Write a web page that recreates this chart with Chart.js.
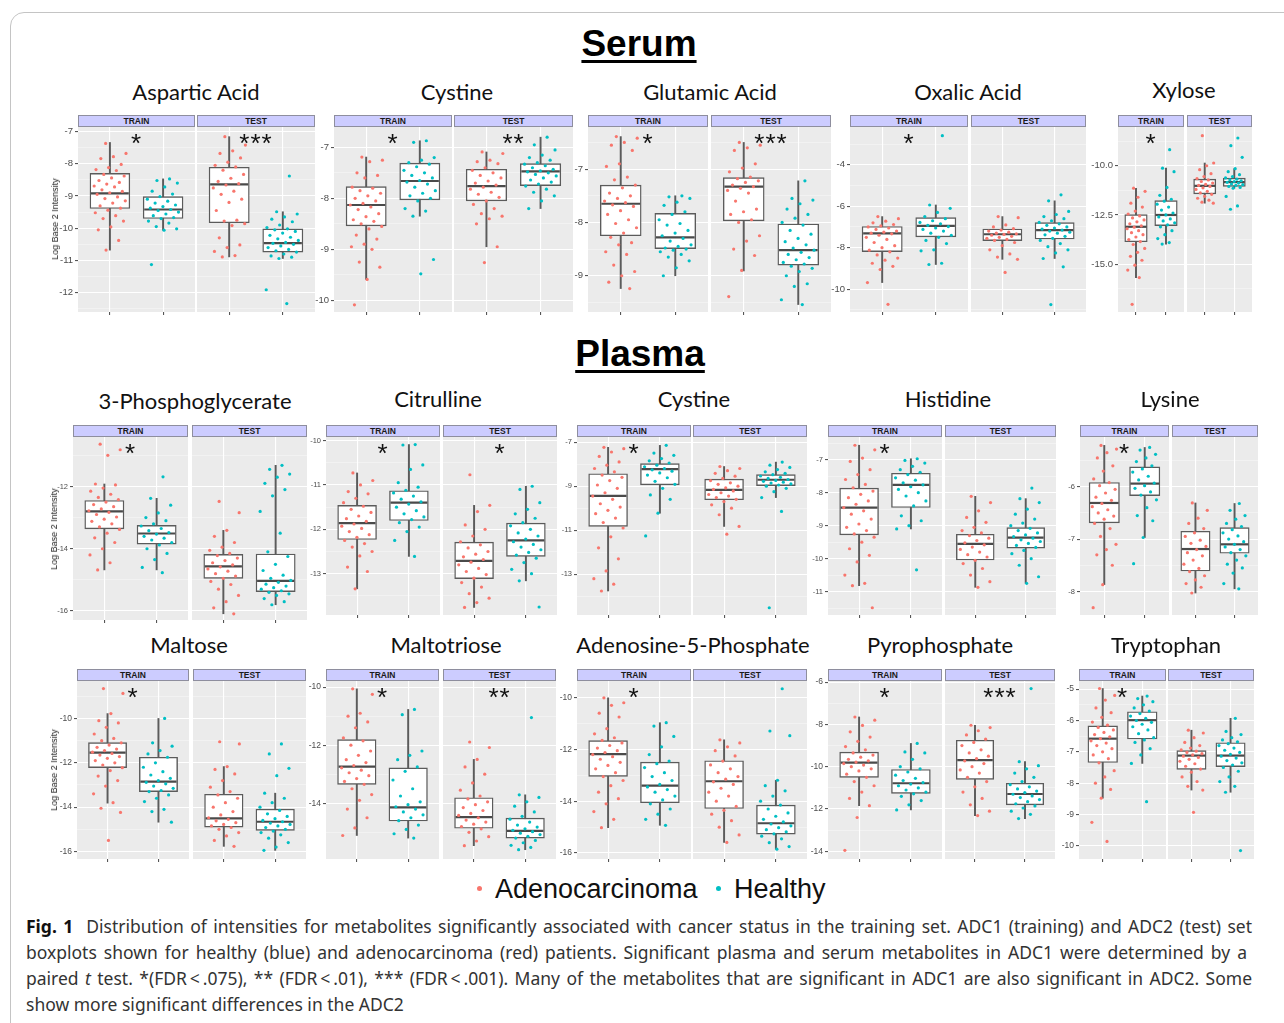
<!DOCTYPE html>
<html>
<head>
<meta charset="utf-8">
<script src="https://cdn.jsdelivr.net/npm/chart.js@4.4.1/dist/chart.umd.min.js"></script>
<style>
  html, body { margin: 0; padding: 0; }
  body { width: 1284px; height: 1023px; overflow: hidden; position: relative; background: #fff;
         font-family: 'Liberation Sans', Arial, sans-serif; color: #111; }
  #frame { position: absolute; left: 10px; top: 12px; width: 1300px; height: 1040px;
           border: 1px solid #c4c4c4; border-radius: 14px; }
  .hdr { position: absolute; font-weight: bold; font-size: 37px; line-height: 40px; white-space: nowrap;
         transform: translateX(-50%); text-decoration: underline; text-decoration-thickness: 3px;
         text-underline-offset: 4px; color: #000; }
  .ptitle { position: absolute; font-family: Lato, 'Open Sans', sans-serif; font-size: 22px; line-height: 26px;
            white-space: nowrap; transform: translateX(-50%); color: #111; }
  .strip { position: absolute; box-sizing: border-box; background: #ccccff; border: 1px solid #8e8e9e;
           font: bold 8.5px 'Liberation Sans', Arial, sans-serif; line-height: 10px; text-align: center; color: #1a1a1a; }
  .star { position: absolute; font: 26px 'Liberation Sans', Arial, sans-serif; line-height: 26px; white-space: nowrap;
          transform: translateX(-50%); color: #111; letter-spacing: 1px; }
  .ytitle { position: absolute; font: 9px 'Liberation Sans', Arial, sans-serif; color: #222; white-space: nowrap;
            transform: translate(-50%, -50%) rotate(-90deg); }
  canvas { position: absolute; }
  .lg { position: absolute; top: 872px; font: 27px 'Liberation Sans', Arial, sans-serif; white-space: nowrap; color: #111; line-height: 34px; }
  .lgdot { position: absolute; width: 5px; height: 5px; border-radius: 50%; }
  .cap { position: absolute; left: 26px; font-family: 'Noto Sans', 'Open Sans', sans-serif; font-size: 17.5px; line-height: 24px;
         color: #333; white-space: nowrap; }
  .cap.just { width: 1226px; text-align: justify; text-align-last: justify; white-space: normal; }
</style>
</head>
<body>
<div id="frame"></div>
<div class="hdr" style="left:639px; top:24px;">Serum</div>
<div class="hdr" style="left:640px; top:334px;">Plasma</div>
<div class="lgdot" style="left:477px; top:886px; background:#F8766D"></div>
<div class="lg" style="left:495px;">Adenocarcinoma</div>
<div class="lgdot" style="left:716px; top:886px; background:#00BFC4"></div>
<div class="lg" style="left:734px;">Healthy</div>
<div class="cap just" style="top:914px;"><b style="color:#111">Fig. 1</b>&nbsp; Distribution of intensities for metabolites significantly associated with cancer status in the training set. ADC1 (training) and ADC2 (test) set</div>
<div class="cap just" style="top:940px; width:1221px;">boxplots shown for healthy (blue) and adenocarcinoma (red) patients. Significant plasma and serum metabolites in ADC1 were determined by a</div>
<div class="cap just" style="top:966px;">paired <i>t</i> test. *(FDR&thinsp;&lt;&thinsp;.075), ** (FDR&thinsp;&lt;&thinsp;.01), *** (FDR&thinsp;&lt;&thinsp;.001). Many of the metabolites that are significant in ADC1 are also significant in ADC2. Some</div>
<div class="cap" style="top:992px;">show more significant differences in the ADC2</div>

<script>
// ---------------------------------------------------------------------------
// Data: log2 intensities per metabolite.
// Group order inside every *Boxes / *Points array:
//   TRAIN Adenocarcinoma, TRAIN Healthy, TEST Adenocarcinoma, TEST Healthy
// Box rows are [lower whisker, Q1, median, Q3, upper whisker].
// ---------------------------------------------------------------------------
const GROUP_NAMES = ['Adenocarcinoma', 'Healthy'];
const SET_NAMES = ['TRAIN', 'TEST'];
const GROUP_COLORS = ['#F8766D', '#00BFC4'];

// ----- Serum -----
const asparticTitle = 'Aspartic Acid';
const asparticTicks = [-12, -11, -10, -9, -8, -7];
const asparticRange = [-12.6, -6.86];
const asparticSig = ['*', '***'];
const asparticBoxes = [
  [-10.68, -9.39, -8.92, -8.30, -7.34],
  [-10.06, -9.70, -9.42, -9.02, -8.47],
  [-10.89, -9.83, -8.64, -8.11, -7.16],
  [-10.94, -10.74, -10.46, -10.02, -9.49]
];
const asparticPoints = [
  [-7.37,-7.68,-7.78,-7.84,-8.02,-8.12,-8.18,-8.21,-8.33,-8.38,-8.44,-8.52,-8.58,-8.63,-8.69,-8.72,-8.81,-8.86,-8.9,-8.95,-9.03,-9.08,-9.15,-9.22,-9.31,-9.38,-9.44,-9.52,-9.61,-9.7,-9.78,-9.96,-10.05,-10.38,-10.68],
  [-8.47,-8.52,-8.6,-8.72,-8.85,-8.94,-9.02,-9.1,-9.16,-9.22,-9.28,-9.33,-9.38,-9.42,-9.45,-9.5,-9.56,-9.61,-9.67,-9.7,-9.78,-9.84,-9.95,-10.02,-10.06,-11.13],
  [-7.16,-7.42,-7.6,-7.68,-7.82,-7.95,-8.05,-8.1,-8.2,-8.33,-8.45,-8.55,-8.62,-8.66,-8.75,-8.85,-8.95,-9.1,-9.2,-9.45,-9.75,-9.78,-9.86,-9.92,-10.3,-10.52,-10.6,-10.72,-10.85,-10.89],
  [-8.38,-9.49,-9.56,-9.65,-9.72,-9.8,-9.9,-9.98,-10.02,-10.05,-10.1,-10.15,-10.22,-10.28,-10.33,-10.38,-10.44,-10.47,-10.5,-10.55,-10.6,-10.66,-10.7,-10.74,-10.8,-10.86,-10.9,-10.94,-11.91,-12.34]
];

const serumCystineTitle = 'Cystine';
const serumCystineTicks = [-10, -9, -8, -7];
const serumCystineRange = [-10.23, -6.6];
const serumCystineSig = ['*', '**'];
const serumCystineBoxes = [
  [-9.59, -8.54, -8.13, -7.77, -7.19],
  [-8.35, -8.03, -7.66, -7.31, -6.87],
  [-8.95, -8.05, -7.76, -7.43, -7.09],
  [-8.20, -7.75, -7.47, -7.32, -6.80]
];
const serumCystinePoints = [
  [-7.19,-7.25,-7.28,-7.5,-7.55,-7.6,-7.78,-7.8,-7.85,-7.9,-7.95,-8.0,-8.05,-8.1,-8.13,-8.17,-8.22,-8.3,-8.36,-8.42,-8.45,-8.5,-8.55,-8.6,-8.72,-8.8,-8.9,-8.95,-9.0,-9.25,-9.35,-9.59,-10.09],
  [-6.87,-6.9,-7.2,-7.25,-7.3,-7.33,-7.38,-7.45,-7.5,-7.55,-7.6,-7.65,-7.68,-7.72,-7.78,-7.85,-7.9,-7.95,-8.0,-8.05,-8.2,-8.25,-8.35,-9.2,-9.48],
  [-7.09,-7.12,-7.25,-7.28,-7.32,-7.4,-7.45,-7.5,-7.55,-7.6,-7.66,-7.7,-7.74,-7.78,-7.82,-7.88,-7.92,-7.98,-8.05,-8.12,-8.2,-8.3,-8.35,-8.4,-8.5,-8.95,-9.26],
  [-6.8,-6.95,-7.05,-7.15,-7.2,-7.25,-7.3,-7.33,-7.36,-7.4,-7.43,-7.46,-7.48,-7.5,-7.53,-7.56,-7.6,-7.64,-7.68,-7.72,-7.76,-7.82,-7.88,-7.95,-8.05,-8.2]
];

const glutamicTitle = 'Glutamic Acid';
const glutamicTicks = [-9, -8, -7];
const glutamicRange = [-9.68, -6.21];
const glutamicSig = ['*', '***'];
const glutamicBoxes = [
  [-9.24, -8.25, -7.65, -7.30, -6.39],
  [-9.00, -8.49, -8.28, -7.83, -7.50],
  [-8.91, -7.97, -7.33, -7.16, -6.50],
  [-9.54, -8.80, -8.52, -8.03, -7.22]
];
const glutamicPoints = [
  [-6.39,-6.42,-6.5,-6.55,-6.65,-6.9,-6.95,-7.15,-7.2,-7.3,-7.35,-7.45,-7.5,-7.55,-7.6,-7.63,-7.67,-7.7,-7.78,-7.85,-7.95,-8.02,-8.1,-8.2,-8.28,-8.38,-8.42,-8.55,-8.6,-8.8,-8.92,-9.0,-9.12,-9.24],
  [-7.5,-7.52,-7.55,-7.62,-7.68,-7.8,-7.85,-7.95,-8.02,-8.05,-8.15,-8.2,-8.25,-8.3,-8.35,-8.42,-8.45,-8.48,-8.5,-8.52,-8.55,-8.6,-8.65,-8.72,-8.85,-9.0],
  [-6.5,-6.55,-6.6,-6.65,-6.9,-6.98,-7.05,-7.15,-7.18,-7.22,-7.25,-7.3,-7.33,-7.36,-7.4,-7.45,-7.6,-7.75,-7.8,-7.85,-7.95,-8.0,-8.25,-8.35,-8.5,-8.62,-8.9,-9.39],
  [-7.22,-7.55,-7.58,-7.65,-7.75,-7.85,-7.92,-8.0,-8.05,-8.15,-8.22,-8.3,-8.36,-8.42,-8.48,-8.52,-8.56,-8.6,-8.66,-8.7,-8.75,-8.78,-8.82,-8.86,-8.92,-9.0,-9.15,-9.2,-9.45,-9.54]
];

const oxalicTitle = 'Oxalic Acid';
const oxalicTicks = [-10, -8, -6, -4];
const oxalicRange = [-11.1, -2.18];
const oxalicSig = ['*', ''];
const oxalicBoxes = [
  [-9.68, -8.19, -7.31, -6.98, -6.50],
  [-8.81, -7.48, -6.95, -6.55, -5.94],
  [-8.56, -7.66, -7.35, -7.10, -6.50],
  [-8.52, -7.58, -7.15, -6.79, -5.74]
];
const oxalicPoints = [
  [-6.5,-6.6,-6.72,-6.8,-6.88,-6.95,-7.0,-7.05,-7.12,-7.2,-7.25,-7.3,-7.33,-7.4,-7.5,-7.6,-7.75,-7.9,-8.0,-8.12,-8.2,-8.35,-8.5,-8.6,-8.75,-8.9,-9.05,-9.68,-10.73],
  [-2.6,-5.94,-6.1,-6.3,-6.5,-6.6,-6.7,-6.78,-6.85,-6.92,-6.98,-7.05,-7.12,-7.2,-7.3,-7.4,-7.5,-7.65,-7.8,-8.1,-8.15,-8.75,-8.81],
  [-6.5,-6.55,-6.9,-7.0,-7.08,-7.15,-7.2,-7.25,-7.3,-7.33,-7.36,-7.4,-7.45,-7.5,-7.55,-7.6,-7.65,-7.75,-7.9,-8.1,-8.3,-8.45,-8.56,-9.19],
  [-5.45,-5.74,-6.25,-6.4,-6.5,-6.6,-6.7,-6.78,-6.85,-6.92,-7.0,-7.05,-7.1,-7.15,-7.2,-7.25,-7.3,-7.38,-7.45,-7.55,-7.65,-7.8,-7.95,-8.1,-8.25,-8.52,-8.92,-10.74]
];

const xyloseTitle = 'Xylose';
const xyloseTicks = [-15, -12.5, -10];
const xyloseRange = [-17.43, -8.03];
const xyloseSig = ['*', ''];
const xyloseBoxes = [
  [-15.68, -13.86, -13.10, -12.48, -11.14],
  [-13.98, -13.04, -12.50, -11.77, -10.12],
  [-11.90, -11.43, -11.02, -10.68, -9.86],
  [-11.14, -11.05, -10.83, -10.63, -10.15]
];
const xylosePoints = [
  [-11.14,-11.3,-11.6,-11.9,-12.1,-12.3,-12.45,-12.55,-12.65,-12.75,-12.85,-12.95,-13.05,-13.12,-13.2,-13.3,-13.4,-13.5,-13.62,-13.75,-13.85,-14.0,-14.2,-14.4,-14.6,-14.8,-15.05,-15.3,-15.68,-17.04],
  [-9.18,-10.12,-10.3,-11.1,-11.5,-11.7,-11.8,-11.95,-12.1,-12.25,-12.4,-12.5,-12.6,-12.7,-12.8,-12.9,-13.0,-13.1,-13.3,-13.5,-13.7,-13.9,-13.98],
  [-8.47,-9.86,-10.0,-10.2,-10.4,-10.55,-10.65,-10.72,-10.8,-10.88,-10.95,-11.0,-11.05,-11.12,-11.2,-11.3,-11.38,-11.45,-11.55,-11.65,-11.75,-11.85,-11.9],
  [-8.59,-8.98,-9.57,-10.15,-10.3,-10.45,-10.55,-10.62,-10.68,-10.72,-10.76,-10.8,-10.84,-10.88,-10.92,-10.96,-11.0,-11.05,-11.1,-11.14,-11.56,-12.04,-12.21]
];

// ----- Plasma -----
const phosphoglycerateTitle = '3-Phosphoglycerate';
const phosphoglycerateTicks = [-16, -14, -12];
const phosphoglycerateRange = [-16.29, -10.41];
const phosphoglycerateSig = ['*', ''];
const phosphoglycerateBoxes = [
  [-14.68, -13.36, -12.80, -12.45, -11.92],
  [-14.68, -13.85, -13.51, -13.25, -12.38],
  [-16.09, -14.95, -14.57, -14.18, -13.41],
  [-15.80, -15.38, -15.03, -14.17, -11.32]
];
const phosphoglyceratePoints = [
  [-10.64,-10.82,-11.0,-11.92,-11.95,-12.05,-12.15,-12.25,-12.35,-12.42,-12.5,-12.58,-12.65,-12.72,-12.78,-12.83,-12.9,-12.98,-13.05,-13.12,-13.2,-13.3,-13.38,-13.5,-13.65,-13.8,-14.0,-14.2,-14.45,-14.68],
  [-11.69,-12.38,-12.6,-12.85,-13.0,-13.1,-13.2,-13.27,-13.35,-13.42,-13.48,-13.53,-13.6,-13.66,-13.72,-13.8,-13.88,-14.0,-14.15,-14.35,-14.6,-14.77],
  [-12.48,-12.84,-13.41,-13.6,-13.8,-13.95,-14.05,-14.15,-14.22,-14.3,-14.38,-14.45,-14.52,-14.58,-14.65,-14.72,-14.8,-14.88,-14.95,-15.05,-15.15,-15.3,-15.5,-15.7,-15.9,-16.09],
  [-11.32,-11.45,-11.6,-11.7,-11.9,-12.1,-12.3,-12.8,-13.5,-14.1,-14.25,-14.5,-14.7,-14.85,-14.95,-15.02,-15.08,-15.14,-15.2,-15.25,-15.3,-15.35,-15.4,-15.45,-15.5,-15.6,-15.7,-15.8]
];

const citrullineTitle = 'Citrulline';
const citrullineTicks = [-13, -12, -11, -10];
const citrullineRange = [-13.93, -9.92];
const citrullineSig = ['*', '*'];
const citrullineBoxes = [
  [-13.34, -12.23, -11.86, -11.46, -10.73],
  [-12.61, -11.80, -11.40, -11.13, -10.09],
  [-13.76, -13.11, -12.71, -12.29, -11.46],
  [-13.16, -12.61, -12.25, -11.86, -11.03]
];
const citrullinePoints = [
  [-10.73,-10.9,-11.0,-11.15,-11.2,-11.3,-11.4,-11.48,-11.55,-11.62,-11.7,-11.76,-11.82,-11.88,-11.93,-11.98,-12.05,-12.12,-12.18,-12.25,-12.32,-12.4,-12.5,-12.6,-12.85,-12.95,-13.34],
  [-10.09,-10.1,-10.55,-10.65,-10.95,-11.05,-11.12,-11.18,-11.25,-11.32,-11.38,-11.43,-11.5,-11.58,-11.65,-11.72,-11.78,-11.85,-11.95,-12.05,-12.25,-12.61],
  [-10.77,-11.46,-11.6,-11.9,-12.0,-12.15,-12.28,-12.35,-12.42,-12.5,-12.56,-12.62,-12.68,-12.74,-12.8,-12.88,-12.95,-13.02,-13.1,-13.2,-13.3,-13.45,-13.55,-13.65,-13.76],
  [-11.03,-11.1,-11.4,-11.55,-11.65,-11.75,-11.85,-11.92,-12.0,-12.08,-12.15,-12.22,-12.28,-12.34,-12.4,-12.46,-12.52,-12.58,-12.65,-12.75,-12.9,-13.0,-13.16,-13.75]
];

const plasmaCystineTitle = 'Cystine';
const plasmaCystineTicks = [-13, -11, -9, -7];
const plasmaCystineRange = [-14.85, -6.77];
const plasmaCystineSig = ['*', ''];
const plasmaCystineBoxes = [
  [-13.76, -10.83, -9.44, -8.44, -7.24],
  [-10.23, -8.94, -8.23, -7.98, -7.15],
  [-10.83, -9.62, -9.17, -8.68, -8.11],
  [-9.52, -8.98, -8.71, -8.48, -7.91]
];
const plasmaCystinePoints = [
  [-7.24,-7.3,-7.45,-7.65,-7.9,-8.05,-8.2,-8.35,-8.5,-8.6,-8.75,-8.95,-9.1,-9.3,-9.45,-9.6,-9.8,-9.95,-10.1,-10.25,-10.45,-10.65,-10.9,-11.3,-11.8,-12.3,-12.85,-13.2,-13.45,-13.76],
  [-7.15,-7.5,-7.6,-7.75,-7.85,-7.95,-8.05,-8.12,-8.2,-8.26,-8.32,-8.4,-8.5,-8.62,-8.78,-8.92,-9.1,-9.4,-9.6,-10.23,-11.26],
  [-8.11,-8.2,-8.3,-8.42,-8.55,-8.65,-8.75,-8.85,-8.92,-9.0,-9.08,-9.15,-9.22,-9.3,-9.38,-9.45,-9.52,-9.6,-9.7,-9.85,-10.0,-10.3,-10.83,-11.18],
  [-7.91,-8.05,-8.15,-8.25,-8.35,-8.42,-8.48,-8.54,-8.6,-8.65,-8.7,-8.74,-8.78,-8.82,-8.86,-8.9,-8.95,-9.0,-9.1,-9.25,-9.52,-10.15,-14.52]
];

const histidineTitle = 'Histidine';
const histidineTicks = [-11, -10, -9, -8, -7];
const histidineRange = [-11.71, -6.31];
const histidineSig = ['*', ''];
const histidineBoxes = [
  [-10.82, -9.28, -8.45, -7.86, -6.56],
  [-9.10, -8.45, -7.76, -7.41, -6.97],
  [-10.87, -10.04, -9.55, -9.26, -8.11],
  [-10.75, -9.68, -9.36, -9.06, -8.18]
];
const histidinePoints = [
  [-6.56,-6.7,-6.95,-7.05,-7.3,-7.45,-7.6,-7.75,-7.85,-7.95,-8.05,-8.15,-8.25,-8.35,-8.45,-8.55,-8.65,-8.8,-8.95,-9.05,-9.15,-9.25,-9.35,-9.5,-9.7,-9.9,-10.1,-10.5,-10.75,-10.82,-11.49],
  [-6.97,-7.02,-7.1,-7.2,-7.3,-7.38,-7.45,-7.55,-7.62,-7.7,-7.76,-7.82,-7.9,-8.0,-8.1,-8.25,-8.4,-8.7,-8.85,-9.0,-9.1,-10.34],
  [-8.11,-8.3,-8.55,-8.75,-8.9,-9.05,-9.15,-9.22,-9.3,-9.38,-9.45,-9.52,-9.58,-9.65,-9.72,-9.8,-9.88,-9.95,-10.05,-10.15,-10.3,-10.5,-10.7,-10.87],
  [-7.86,-8.18,-8.3,-8.5,-8.65,-8.8,-8.92,-9.0,-9.08,-9.15,-9.22,-9.28,-9.33,-9.38,-9.43,-9.48,-9.54,-9.6,-9.66,-9.75,-9.85,-10.0,-10.2,-10.55,-10.75]
];

const lysineTitle = 'Lysine';
const lysineTicks = [-8, -7, -6];
const lysineRange = [-8.45, -5.05];
const lysineSig = ['*', ''];
const lysineBoxes = [
  [-7.87, -6.69, -6.31, -5.92, -5.21],
  [-6.97, -6.17, -5.94, -5.62, -5.25],
  [-8.03, -7.61, -7.19, -6.85, -6.31],
  [-7.95, -7.27, -7.10, -6.78, -6.32]
];
const lysinePoints = [
  [-5.21,-5.28,-5.35,-5.45,-5.6,-5.7,-5.85,-5.92,-5.98,-6.05,-6.12,-6.2,-6.26,-6.32,-6.38,-6.44,-6.5,-6.56,-6.62,-6.7,-6.8,-6.95,-7.1,-7.2,-7.3,-7.5,-7.87,-8.31],
  [-5.25,-5.3,-5.38,-5.45,-5.52,-5.6,-5.66,-5.72,-5.8,-5.87,-5.93,-5.98,-6.03,-6.1,-6.16,-6.25,-6.4,-6.55,-6.65,-6.97,-7.47],
  [-6.31,-6.45,-6.6,-6.7,-6.8,-6.88,-6.95,-7.02,-7.08,-7.14,-7.2,-7.26,-7.32,-7.4,-7.48,-7.56,-7.62,-7.7,-7.78,-7.85,-7.92,-8.03],
  [-6.32,-6.45,-6.55,-6.62,-6.7,-6.76,-6.82,-6.88,-6.94,-7.0,-7.05,-7.1,-7.15,-7.2,-7.26,-7.32,-7.4,-7.48,-7.55,-7.65,-7.85,-7.95]
];

const maltoseTitle = 'Maltose';
const maltoseTicks = [-16, -14, -12, -10];
const maltoseRange = [-16.34, -8.31];
const maltoseSig = ['*', ''];
const maltoseBoxes = [
  [-13.82, -12.22, -11.54, -11.09, -9.78],
  [-14.68, -13.30, -12.85, -11.75, -10.00],
  [-15.77, -14.90, -14.51, -13.42, -12.17],
  [-15.95, -15.05, -14.66, -14.09, -13.37]
];
const maltosePoints = [
  [-8.65,-8.87,-9.78,-10.1,-10.2,-10.4,-10.7,-10.9,-11.0,-11.1,-11.2,-11.3,-11.38,-11.45,-11.52,-11.58,-11.65,-11.72,-11.8,-11.9,-12.0,-12.1,-12.22,-12.35,-12.6,-12.8,-13.05,-13.4,-13.8,-14.05,-14.24,-15.5],
  [-10.0,-11.1,-11.25,-11.45,-11.6,-11.75,-12.0,-12.2,-12.4,-12.55,-12.7,-12.8,-12.88,-12.95,-13.05,-13.15,-13.25,-13.3,-13.45,-13.6,-13.75,-14.1,-14.2,-14.68],
  [-11.05,-11.15,-12.17,-12.3,-12.5,-12.8,-13.1,-13.3,-13.45,-13.6,-13.8,-14.0,-14.2,-14.35,-14.48,-14.55,-14.62,-14.7,-14.78,-14.85,-14.92,-15.0,-15.15,-15.3,-15.5,-15.77],
  [-11.15,-11.6,-12.25,-12.58,-13.37,-13.6,-13.8,-14.0,-14.15,-14.3,-14.42,-14.52,-14.6,-14.66,-14.72,-14.78,-14.85,-14.92,-15.0,-15.08,-15.15,-15.25,-15.4,-15.6,-15.8,-15.95]
];

const maltotrioseTitle = 'Maltotriose';
const maltotrioseTicks = [-14, -12, -10];
const maltotrioseRange = [-15.92, -9.79];
const maltotrioseSig = ['*', '**'];
const maltotrioseBoxes = [
  [-15.11, -13.35, -12.74, -11.81, -10.06],
  [-15.20, -14.61, -14.14, -12.78, -10.77],
  [-15.46, -14.86, -14.48, -13.81, -12.49],
  [-15.60, -15.20, -14.95, -14.51, -13.71]
];
const maltotriosePoints = [
  [-10.06,-10.25,-10.9,-11.0,-11.2,-11.4,-11.75,-11.85,-12.0,-12.2,-12.35,-12.5,-12.6,-12.7,-12.78,-12.86,-12.95,-13.05,-13.15,-13.25,-13.35,-13.5,-13.7,-13.9,-14.2,-14.5,-14.85,-15.11],
  [-10.77,-10.95,-12.2,-12.35,-12.5,-12.75,-12.9,-13.2,-13.5,-13.75,-13.95,-14.05,-14.12,-14.2,-14.3,-14.4,-14.5,-14.6,-14.75,-14.9,-15.05,-15.2],
  [-11.89,-12.08,-12.49,-12.75,-13.0,-13.3,-13.55,-13.75,-13.85,-13.95,-14.05,-14.15,-14.25,-14.35,-14.42,-14.5,-14.58,-14.65,-14.72,-14.8,-14.88,-15.0,-15.15,-15.3,-15.46],
  [-11.05,-13.71,-13.8,-13.95,-14.1,-14.3,-14.45,-14.55,-14.65,-14.75,-14.82,-14.88,-14.93,-14.98,-15.03,-15.08,-15.14,-15.2,-15.28,-15.36,-15.45,-15.52,-15.6]
];

const adenosineTitle = 'Adenosine-5-Phosphate';
const adenosineTicks = [-16, -14, -12, -10];
const adenosineRange = [-16.23, -9.36];
const adenosineSig = ['*', ''];
const adenosineBoxes = [
  [-15.02, -13.04, -12.18, -11.66, -10.01],
  [-14.93, -14.06, -13.40, -12.49, -10.97],
  [-15.59, -14.28, -13.23, -12.44, -11.63],
  [-15.85, -15.27, -14.85, -14.15, -13.19]
];
const adenosinePoints = [
  [-10.01,-10.2,-10.3,-10.6,-10.75,-11.2,-11.4,-11.55,-11.65,-11.75,-11.85,-11.95,-12.05,-12.12,-12.2,-12.28,-12.38,-12.5,-12.62,-12.75,-12.9,-13.05,-13.2,-13.4,-13.65,-13.9,-14.1,-14.4,-14.7,-15.02],
  [-10.97,-11.1,-11.5,-11.9,-12.2,-12.45,-12.55,-12.7,-12.9,-13.05,-13.2,-13.35,-13.45,-13.55,-13.65,-13.8,-13.95,-14.1,-14.3,-14.5,-14.7,-14.93],
  [-11.63,-11.75,-11.9,-12.05,-12.25,-12.45,-12.6,-12.75,-12.9,-13.05,-13.15,-13.25,-13.35,-13.5,-13.65,-13.8,-14.0,-14.2,-14.35,-14.5,-14.75,-15.0,-15.3,-15.59],
  [-9.66,-11.29,-11.47,-13.19,-13.4,-13.6,-13.8,-14.0,-14.15,-14.3,-14.45,-14.58,-14.7,-14.8,-14.88,-14.95,-15.02,-15.1,-15.18,-15.26,-15.35,-15.45,-15.6,-15.75,-15.85]
];

const pyrophosphateTitle = 'Pyrophosphate';
const pyrophosphateTicks = [-14, -12, -10, -8, -6];
const pyrophosphateRange = [-14.36, -5.95];
const pyrophosphateSig = ['*', '***'];
const pyrophosphateBoxes = [
  [-11.84, -10.50, -9.81, -9.31, -7.65],
  [-12.04, -11.26, -10.78, -10.13, -8.90],
  [-12.31, -10.60, -9.69, -8.75, -8.04],
  [-12.45, -11.80, -11.29, -10.78, -9.76]
];
const pyrophosphatePoints = [
  [-7.65,-7.8,-8.05,-8.35,-8.6,-8.8,-9.05,-9.2,-9.35,-9.45,-9.55,-9.65,-9.72,-9.78,-9.85,-9.92,-10.0,-10.1,-10.2,-10.35,-10.5,-10.7,-10.9,-11.2,-11.5,-11.84,-12.4,-13.95],
  [-8.9,-9.3,-9.35,-9.65,-10.0,-10.1,-10.25,-10.4,-10.55,-10.65,-10.75,-10.82,-10.9,-11.0,-11.1,-11.2,-11.28,-11.4,-11.6,-11.8,-12.04],
  [-8.04,-8.15,-8.3,-8.5,-8.7,-8.85,-9.0,-9.2,-9.35,-9.5,-9.62,-9.72,-9.85,-10.0,-10.15,-10.3,-10.5,-10.7,-10.95,-11.2,-11.5,-11.8,-12.1,-12.31],
  [-6.31,-9.76,-9.95,-10.1,-10.3,-10.5,-10.7,-10.85,-10.95,-11.05,-11.15,-11.22,-11.3,-11.38,-11.46,-11.55,-11.65,-11.75,-11.85,-11.95,-12.1,-12.25,-12.45]
];

const tryptophanTitle = 'Tryptophan';
const tryptophanTicks = [-10, -9, -8, -7, -6, -5];
const tryptophanRange = [-10.42, -4.74];
const tryptophanSig = ['*', ''];
const tryptophanBoxes = [
  [-8.48, -7.34, -6.58, -6.17, -4.98],
  [-7.37, -6.59, -5.99, -5.72, -5.22],
  [-8.22, -7.56, -7.12, -6.96, -6.31],
  [-8.29, -7.47, -7.12, -6.71, -5.93]
];
const tryptophanPoints = [
  [-4.98,-5.2,-5.35,-5.6,-5.75,-5.9,-6.05,-6.15,-6.22,-6.3,-6.38,-6.45,-6.52,-6.58,-6.65,-6.72,-6.8,-6.9,-7.0,-7.1,-7.22,-7.35,-7.6,-7.8,-8.0,-8.2,-8.48,-9.25,-9.86],
  [-5.22,-5.3,-5.4,-5.5,-5.6,-5.7,-5.78,-5.86,-5.93,-6.0,-6.06,-6.12,-6.2,-6.3,-6.42,-6.55,-6.62,-6.7,-6.9,-7.1,-7.37,-8.59],
  [-6.31,-6.4,-6.55,-6.7,-6.8,-6.88,-6.94,-6.98,-7.02,-7.06,-7.1,-7.14,-7.18,-7.24,-7.3,-7.38,-7.46,-7.55,-7.65,-7.8,-7.95,-8.1,-8.22,-8.93],
  [-5.93,-6.35,-6.45,-6.55,-6.62,-6.68,-6.74,-6.8,-6.88,-6.95,-7.02,-7.08,-7.14,-7.2,-7.28,-7.35,-7.42,-7.5,-7.62,-7.8,-7.95,-8.1,-8.29,-10.15]
];

// ---------------------------------------------------------------------------
// Page layout (pixels): facet edges, plot top/bottom, title anchor, tick font.
// ---------------------------------------------------------------------------
const panels = [
  // serum
  { title: asparticTitle, ticks: asparticTicks, range: asparticRange, sig: asparticSig, boxes: asparticBoxes, points: asparticPoints,
    facets: [[78, 195], [197, 315]], top: 127, bottom: 312, titleX: 196, titleY: 79, tickFont: 9.5, yTitle: [55, 219] },
  { title: serumCystineTitle, ticks: serumCystineTicks, range: serumCystineRange, sig: serumCystineSig, boxes: serumCystineBoxes, points: serumCystinePoints,
    facets: [[334, 452], [454, 573]], top: 127, bottom: 312, titleX: 457, titleY: 79, tickFont: 9.5 },
  { title: glutamicTitle, ticks: glutamicTicks, range: glutamicRange, sig: glutamicSig, boxes: glutamicBoxes, points: glutamicPoints,
    facets: [[588, 708], [711, 831]], top: 127, bottom: 312, titleX: 710, titleY: 79, tickFont: 9.5 },
  { title: oxalicTitle, ticks: oxalicTicks, range: oxalicRange, sig: oxalicSig, boxes: oxalicBoxes, points: oxalicPoints,
    facets: [[850, 968], [971, 1086]], top: 127, bottom: 312, titleX: 968, titleY: 79, tickFont: 9.5 },
  { title: xyloseTitle, ticks: xyloseTicks, range: xyloseRange, sig: xyloseSig, boxes: xyloseBoxes, points: xylosePoints,
    facets: [[1118, 1184], [1187, 1252]], top: 127, bottom: 312, titleX: 1184, titleY: 77, tickFont: 9.5 },
  // plasma, first row
  { title: phosphoglycerateTitle, ticks: phosphoglycerateTicks, range: phosphoglycerateRange, sig: phosphoglycerateSig, boxes: phosphoglycerateBoxes, points: phosphoglyceratePoints,
    facets: [[73, 188], [192, 307]], top: 437, bottom: 620, titleX: 195, titleY: 388, tickFont: 7.5, yTitle: [54, 529] },
  { title: citrullineTitle, ticks: citrullineTicks, range: citrullineRange, sig: citrullineSig, boxes: citrullineBoxes, points: citrullinePoints,
    facets: [[326, 440], [443, 557]], top: 437, bottom: 615, titleX: 438, titleY: 386, tickFont: 7.5 },
  { title: plasmaCystineTitle, ticks: plasmaCystineTicks, range: plasmaCystineRange, sig: plasmaCystineSig, boxes: plasmaCystineBoxes, points: plasmaCystinePoints,
    facets: [[577, 691], [693, 807]], top: 437, bottom: 615, titleX: 694, titleY: 386, tickFont: 7.5 },
  { title: histidineTitle, ticks: histidineTicks, range: histidineRange, sig: histidineSig, boxes: histidineBoxes, points: histidinePoints,
    facets: [[828, 942], [945, 1056]], top: 437, bottom: 615, titleX: 948, titleY: 386, tickFont: 7.5 },
  { title: lysineTitle, ticks: lysineTicks, range: lysineRange, sig: lysineSig, boxes: lysineBoxes, points: lysinePoints,
    facets: [[1080, 1169], [1172, 1258]], top: 437, bottom: 615, titleX: 1170, titleY: 386, tickFont: 7.5 },
  // plasma, second row
  { title: maltoseTitle, ticks: maltoseTicks, range: maltoseRange, sig: maltoseSig, boxes: maltoseBoxes, points: maltosePoints,
    facets: [[77, 189], [193, 306]], top: 681, bottom: 859, titleX: 189, titleY: 632, tickFont: 8.5, yTitle: [54, 770] },
  { title: maltotrioseTitle, ticks: maltotrioseTicks, range: maltotrioseRange, sig: maltotrioseSig, boxes: maltotrioseBoxes, points: maltotriosePoints,
    facets: [[326, 439], [443, 556]], top: 681, bottom: 859, titleX: 446, titleY: 632, tickFont: 8.5 },
  { title: adenosineTitle, ticks: adenosineTicks, range: adenosineRange, sig: adenosineSig, boxes: adenosineBoxes, points: adenosinePoints,
    facets: [[577, 691], [693, 807]], top: 681, bottom: 859, titleX: 693, titleY: 632, tickFont: 8.5 },
  { title: pyrophosphateTitle, ticks: pyrophosphateTicks, range: pyrophosphateRange, sig: pyrophosphateSig, boxes: pyrophosphateBoxes, points: pyrophosphatePoints,
    facets: [[828, 942], [945, 1055]], top: 681, bottom: 859, titleX: 940, titleY: 632, tickFont: 8.5 },
  { title: tryptophanTitle, ticks: tryptophanTicks, range: tryptophanRange, sig: tryptophanSig, boxes: tryptophanBoxes, points: tryptophanPoints,
    facets: [[1079, 1166], [1168, 1254]], top: 681, bottom: 859, titleX: 1166, titleY: 632, tickFont: 8.5 }
];

// ---------------------------------------------------------------------------
Chart.defaults.font.family = "'Liberation Sans', Arial, sans-serif";
Chart.defaults.animation = false;

const BOX_LINE = '#5b5b5b';
const AXIS_W = 34;      // room left of the first facet for tick labels
const PAD_TOP = 8;      // canvas margin above the plot area
const PAD_BOTTOM = 10;  // canvas margin below the plot area
const PAD_SIDE = 3;     // canvas margin left/right of the plot area
const HALF_BOX = 0.375; // half box width in category units

// horizontal jitter of the individual samples, in category units
function jitter(i) {
  return (((i * 0.6180339887 + 0.37) % 1) - 0.5) * 0.62;
}

// grey panel background behind the grid
const panelBackground = {
  id: 'panelBackground',
  beforeDraw(chart) {
    const { ctx, chartArea: a } = chart;
    ctx.save();
    ctx.fillStyle = '#EBEBEB';
    ctx.fillRect(a.left, a.top, a.right - a.left, a.bottom - a.top);
    ctx.restore();
  }
};

function addDiv(cls, html, style) {
  const d = document.createElement('div');
  d.className = cls;
  d.innerHTML = html;
  Object.assign(d.style, style);
  document.body.appendChild(d);
  return d;
}

function buildTickList(majors, range) {
  const step = majors[1] - majors[0];
  const all = new Map();
  majors.forEach(m => {
    all.set(m, true);
    [m - step / 2, m + step / 2].forEach(v => {
      if (v >= range[0] && v <= range[1] && !all.has(v)) all.set(v, false);
    });
  });
  return [...all.entries()].sort((a, b) => a[0] - b[0]).map(([value, major]) => ({ value, major }));
}

function drawFacet(panel, f) {
  const [left, right] = panel.facets[f];
  const w = right - left;
  const showAxis = f === 0;
  const ax = showAxis ? AXIS_W : PAD_SIDE;
  const plotH = panel.bottom - panel.top;

  const canvas = document.createElement('canvas');
  canvas.width = w + ax + PAD_SIDE;
  canvas.height = plotH + PAD_TOP + PAD_BOTTOM;
  canvas.style.left = (left - ax) + 'px';
  canvas.style.top = (panel.top - PAD_TOP) + 'px';
  document.body.appendChild(canvas);

  const boxW = (w / 2.2) * (2 * HALF_BOX);
  const decimals = panel.ticks.some(t => !Number.isInteger(t)) ? 1 : 0;
  const tickList = buildTickList(panel.ticks, panel.range);

  const datasets = [];
  for (let g = 0; g < 2; g++) {
    const idx = f * 2 + g;
    const b = panel.boxes[idx];
    const cx = g + 1;
    datasets.push({   // whisker
      type: 'bar', label: GROUP_NAMES[g] + ' whisker', data: [{ x: cx, y: [b[0], b[4]] }],
      backgroundColor: BOX_LINE, borderWidth: 0, barThickness: 1.3, grouped: false, order: 4
    });
    datasets.push({   // inter-quartile box
      type: 'bar', label: GROUP_NAMES[g] + ' box', data: [{ x: cx, y: [b[1], b[3]] }],
      backgroundColor: '#ffffff', borderColor: BOX_LINE, borderWidth: 1.4, borderSkipped: false,
      barThickness: boxW, grouped: false, order: 3
    });
    datasets.push({   // median
      type: 'line', label: GROUP_NAMES[g] + ' median',
      data: [{ x: cx - HALF_BOX + 0.02, y: b[2] }, { x: cx + HALF_BOX - 0.02, y: b[2] }],
      borderColor: '#4a4a4a', borderWidth: 2.2, pointRadius: 0, pointHoverRadius: 0, pointHitRadius: 0,
      fill: false, order: 2
    });
    datasets.push({   // samples
      type: 'scatter', label: GROUP_NAMES[g],
      data: panel.points[idx].map((v, i) => ({ x: cx + jitter(i + g * 7), y: v })), showLine: false,
      pointRadius: 1.6, pointHoverRadius: 1.6, pointHitRadius: 0,
      pointBackgroundColor: GROUP_COLORS[g], pointBorderWidth: 0, order: 1
    });
  }

  new Chart(canvas, {
    type: 'bar',
    data: { datasets },
    plugins: [panelBackground],
    options: {
      responsive: false,
      devicePixelRatio: 1,
      animation: false,
      events: [],
      layout: { padding: { top: PAD_TOP, bottom: PAD_BOTTOM - 4, left: showAxis ? 0 : PAD_SIDE, right: PAD_SIDE } },
      plugins: { legend: { display: false }, tooltip: { enabled: false }, title: { display: false } },
      scales: {
        x: {
          type: 'linear', min: 0.4, max: 2.6, offset: false,
          afterBuildTicks: s => { s.ticks = [{ value: 1 }, { value: 2 }]; },
          afterFit: s => { s.height = 4; s.paddingLeft = 0; s.paddingRight = 0; },
          ticks: { display: false },
          grid: { color: '#ffffff', lineWidth: 1.1, drawTicks: true, tickLength: 3, tickColor: '#555', offset: false },
          border: { display: false }
        },
        y: {
          type: 'linear', min: panel.range[0], max: panel.range[1],
          afterBuildTicks: s => { s.ticks = tickList.map(t => ({ value: t.value, major: t.major })); },
          afterFit: s => { s.width = showAxis ? AXIS_W : 0; s.paddingTop = 0; s.paddingBottom = 0; },
          ticks: {
            display: showAxis, autoSkip: false, padding: 2, color: '#4d4d4d',
            font: { size: panel.tickFont },
            callback: (v, i, ticks) => ticks[i].major ? v.toFixed(decimals) : ''
          },
          grid: {
            drawTicks: showAxis, tickLength: 3,
            color: c => (c.tick && c.tick.major) ? '#ffffff' : 'rgba(255,255,255,0.6)',
            lineWidth: c => (c.tick && c.tick.major) ? 1.1 : 0.6,
            tickColor: c => (c.tick && c.tick.major) ? '#555' : 'rgba(0,0,0,0)'
          },
          border: { display: false }
        }
      }
    }
  });

  // facet strip and significance marks
  addDiv('strip', SET_NAMES[f], {
    left: left + 'px', top: (panel.top - 12) + 'px', width: w + 'px', height: '12px'
  });
  if (panel.sig[f]) {
    addDiv('star', panel.sig[f], { left: (left + w / 2) + 'px', top: (panel.top + 2.5) + 'px' });
  }
}

panels.forEach(panel => {
  addDiv('ptitle', panel.title, { left: panel.titleX + 'px', top: panel.titleY + 'px' });
  drawFacet(panel, 0);
  drawFacet(panel, 1);
  if (panel.yTitle) {
    addDiv('ytitle', 'Log Base 2 Intensity', { left: panel.yTitle[0] + 'px', top: panel.yTitle[1] + 'px' });
  }
});
</script>
</body>
</html>
